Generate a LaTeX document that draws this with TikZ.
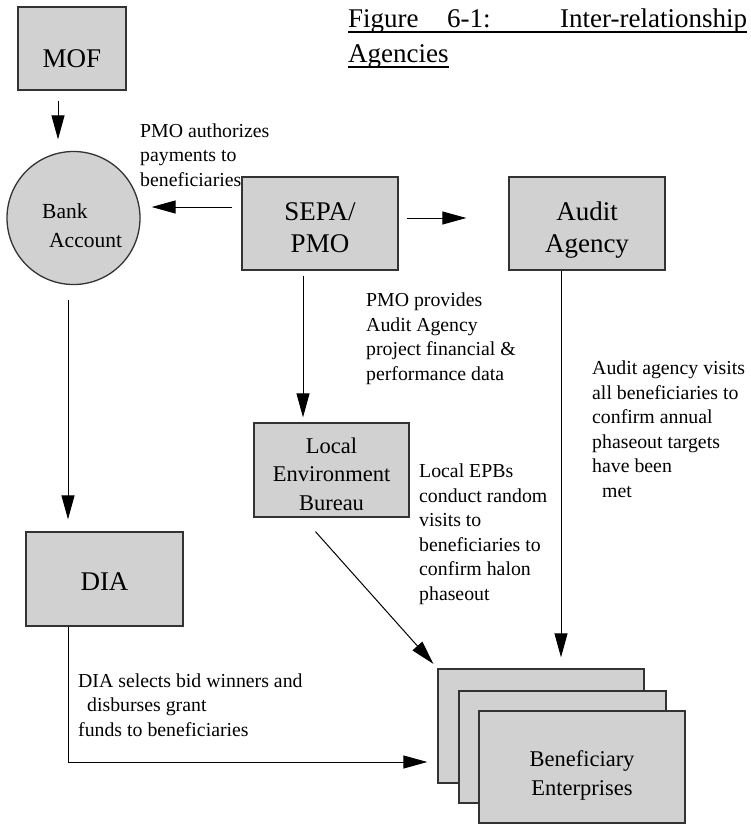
\documentclass[tikz,border=0pt]{standalone}
\usepackage{fontspec}
\setmainfont{Liberation Serif}
\usetikzlibrary{arrows.meta,positioning}
\definecolor{boxgray}{gray}{0.82}
\tikzset{
    %Define standard arrow tip
    >={Triangle[length=24pt,width=13pt]},
    %Define style for boxes
    agency/.style={
           rectangle,
           draw=black!80, line width=1.3pt,
           fill=boxgray,
           align=center,
           text depth=0pt,
           font=\fontsize{27}{32}\selectfont},
    smallagency/.style={
           agency,
           font=\fontsize{22.5}{28.5}\selectfont},
    bankcircle/.style={
           circle,
           draw=black!80, line width=1.3pt,
           fill=boxgray,
           minimum size=133pt,
           inner sep=0pt},
    note/.style={
           anchor=base west,
           align=left,
           inner sep=0pt,
           font=\fontsize{19.8}{24.5}\selectfont},
    titletext/.style={
           anchor=base west,
           inner sep=0pt,
           font=\fontsize{27}{32}\selectfont},
    % Define arrow style
    pil/.style={
           ->,
           line width=1pt},
    uline/.style={line width=1.4pt}
}
\begin{document}
\begin{tikzpicture}[x=1pt,y=-1pt]
\useasboundingbox (0,0) rectangle (750,824);

 %title
\node[titletext] (fig) at (348,28) {Figure};
\node[titletext] (num) at (447,28) {6-1:};
\node[titletext] (rel) at (560,28) {Inter-relationship};
\node[titletext] (agen) at (348,63) {Agencies};
\draw[uline] ([yshift=-4pt]fig.base west) -- ([yshift=-4pt]fig.base west -| rel.east);
\draw[uline] ([yshift=-4pt]agen.base west) -- ([yshift=-4pt]agen.base east);

 %nodes
\node[agency, minimum width=108pt, minimum height=83pt, text height=38pt] (mof) at (72,48.5) {MOF};
\node[bankcircle] (bank) at (73.5,218) {};
\node[note, font=\fontsize{21.5}{29}\selectfont] (banktext) at (42,247) {Bank\\\hspace*{7pt}Account};
\node[agency, minimum width=156pt, minimum height=93pt, text height=57pt] (sepa) at (320,223.5) {SEPA/\\PMO};
\node[agency, minimum width=156pt, minimum height=93pt, text height=57pt] (audit) at (587,223.5) {Audit\\Agency};
\node[smallagency, minimum width=155pt, minimum height=94pt, text height=80pt] (local) at (331.5,470) {Local\\Environment\\Bureau};
\node[agency, minimum width=157pt, minimum height=94pt, text height=22pt] (dia) at (104.5,579) {DIA};
\node[agency, minimum width=206pt, minimum height=114pt] (ben1) at (541,726) {};
\node[agency, minimum width=207pt, minimum height=112pt] (ben2) at (562.5,747) {};
\node[smallagency, minimum width=206pt, minimum height=112pt, text height=56pt] (ben3) at (582,767) {Beneficiary\\Enterprises};

 %texts
\node[note] (authtext) at (140,186) {PMO authorizes\\payments to\\beneficiaries};
\node[note] (datatext) at (366,380) {PMO provides\\Audit Agency\\project financial \&\\performance data};
\node[note] (audittext) at (592,497) {Audit agency visits\\all beneficiaries to\\confirm annual\\phaseout targets\\have been\\\hspace*{10pt}met};
\node[note] (epbtext) at (419,600) {Local EPBs\\conduct random\\visits to\\beneficiaries to\\confirm halon\\phaseout};
\node[note] (diatext) at (78,736) {DIA selects bid winners and\\\hspace*{9pt}disburses grant\\funds to beneficiaries};

 %connectors
\draw[pil, shorten <=10pt, shorten >=11.5pt] ([xshift=-14pt]mof.south) -- ([xshift=-14pt]mof.south |- bank.north);
\draw[pil, shorten <=9pt, shorten >=11pt] ([yshift=16.5pt]sepa.west) -- ([yshift=16.5pt]sepa.west -| bank.east);
\draw[pil, shorten <=8pt, shorten >=42pt] ([yshift=5.5pt]sepa.east) -- ([yshift=5.5pt]sepa.east -| audit.west);
\draw[pil, shorten <=5pt, shorten >=5pt] ([xshift=-17pt]sepa.south) -- ([xshift=-17pt]sepa.south |- local.north);
\draw[pil, shorten >=11pt] ([xshift=-26pt]audit.south) -- ([xshift=-26pt]audit.south |- ben1.north);
\draw[pil, shorten <=14.5pt, shorten >=12pt] ([xshift=-5.5pt]bank.south) -- ([xshift=-5.5pt]bank.south |- dia.north);
\draw[pil, shorten >=10pt] ([xshift=-36.5pt]dia.south) |- ([yshift=-36pt]ben1.west);
\draw[pil, shorten >=6pt] ([xshift=-16pt,yshift=-14pt]local.south) -- (ben1.north west);

\end{tikzpicture}
\end{document}
